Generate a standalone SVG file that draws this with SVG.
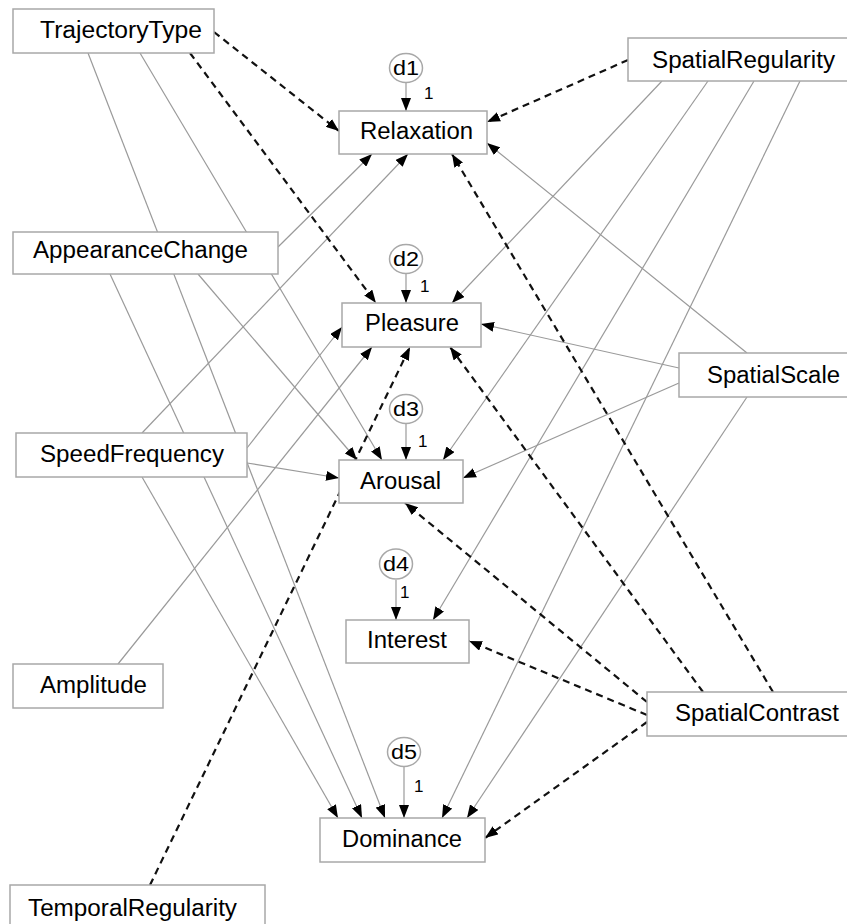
<svg xmlns="http://www.w3.org/2000/svg" width="847" height="924" viewBox="0 0 847 924">
<style>
.box{fill:#fff;stroke:#a8a8a8;stroke-width:1.5}
.lbl{font-family:"Liberation Sans",Arial,sans-serif;font-size:23px;fill:#000}
.dl{font-family:"Liberation Sans",Arial,sans-serif;font-size:20px;fill:#000}
.one{font-family:"Liberation Sans",Arial,sans-serif;font-size:17px;fill:#000}
.err{fill:#fff;stroke:#a8a8a8;stroke-width:1.5}
.s{stroke:#9a9a9a;stroke-width:1.2;fill:none;marker-end:url(#ah)}
.d{stroke:#111;stroke-width:2.2;stroke-dasharray:7,5;fill:none;marker-end:url(#ah)}
</style>
<defs>
<marker id="ah" viewBox="0 0 13 10" refX="13" refY="5" markerWidth="13" markerHeight="10" markerUnits="userSpaceOnUse" orient="auto">
<path d="M0,0 L13,5 L0,10 z" fill="#000" stroke="none"/>
</marker>
</defs>
<rect width="847" height="924" fill="#fff"/>
<g id="connectors">
<line class="s" x1="140" y1="53" x2="382" y2="460"/>
<line class="s" x1="88" y1="53" x2="385" y2="818"/>
<line class="s" x1="278" y1="247" x2="372" y2="154"/>
<line class="s" x1="198" y1="274" x2="357" y2="460"/>
<line class="s" x1="110" y1="274" x2="362" y2="818"/>
<line class="s" x1="142" y1="433" x2="408" y2="154"/>
<line class="s" x1="247" y1="448" x2="342" y2="327"/>
<line class="s" x1="247" y1="463" x2="339" y2="478"/>
<line class="s" x1="142" y1="477" x2="338" y2="818"/>
<line class="s" x1="118" y1="664" x2="372" y2="347"/>
<line class="s" x1="662" y1="81" x2="452" y2="303"/>
<line class="s" x1="708" y1="81" x2="443" y2="460"/>
<line class="s" x1="754" y1="81" x2="433" y2="620"/>
<line class="s" x1="800" y1="81" x2="442" y2="818"/>
<line class="s" x1="747" y1="353" x2="487" y2="143"/>
<line class="s" x1="679" y1="368" x2="481" y2="324"/>
<line class="s" x1="679" y1="383" x2="463" y2="478"/>
<line class="s" x1="747" y1="397" x2="467" y2="818"/>
<line class="s" x1="406" y1="82" x2="406" y2="111"/>
<line class="s" x1="406" y1="273" x2="406" y2="303"/>
<line class="s" x1="406" y1="423" x2="406" y2="460"/>
<line class="s" x1="396" y1="580" x2="396" y2="620"/>
<line class="s" x1="404" y1="767" x2="404" y2="818"/>
<line class="d" x1="214" y1="32" x2="339" y2="131"/>
<line class="d" x1="190" y1="53" x2="376" y2="303"/>
<line class="d" x1="628" y1="60" x2="487" y2="122"/>
<line class="d" x1="773" y1="692" x2="452" y2="154"/>
<line class="d" x1="703" y1="692" x2="450" y2="347"/>
<line class="d" x1="647" y1="702" x2="405" y2="503"/>
<line class="d" x1="647" y1="715" x2="469" y2="641"/>
<line class="d" x1="647" y1="722" x2="485" y2="838"/>
<line class="d" x1="150" y1="885" x2="410" y2="347"/>
</g>
<g id="TrajectoryType"><rect class="box" x="13" y="9" width="201" height="44"/><text class="lbl" x="40" y="38" textLength="162" lengthAdjust="spacingAndGlyphs">TrajectoryType</text></g>
<g id="Relaxation"><rect class="box" x="339" y="111" width="148" height="43"/><text class="lbl" x="360" y="139" textLength="113" lengthAdjust="spacingAndGlyphs">Relaxation</text></g>
<g id="SpatialRegularity"><rect class="box" x="628" y="38" width="222" height="43"/><text class="lbl" x="652" y="68" textLength="183" lengthAdjust="spacingAndGlyphs">SpatialRegularity</text></g>
<g id="AppearanceChange"><rect class="box" x="13" y="232" width="265" height="42"/><text class="lbl" x="33" y="258" textLength="215" lengthAdjust="spacingAndGlyphs">AppearanceChange</text></g>
<g id="SpeedFrequency"><rect class="box" x="16" y="433" width="231" height="44"/><text class="lbl" x="40" y="462" textLength="184" lengthAdjust="spacingAndGlyphs">SpeedFrequency</text></g>
<g id="Pleasure"><rect class="box" x="342" y="303" width="139" height="44"/><text class="lbl" x="365" y="331" textLength="94" lengthAdjust="spacingAndGlyphs">Pleasure</text></g>
<g id="Arousal"><rect class="box" x="339" y="460" width="124" height="43"/><text class="lbl" x="360" y="489" textLength="81" lengthAdjust="spacingAndGlyphs">Arousal</text></g>
<g id="SpatialScale"><rect class="box" x="679" y="353" width="171" height="44"/><text class="lbl" x="707" y="383" textLength="133" lengthAdjust="spacingAndGlyphs">SpatialScale</text></g>
<g id="Interest"><rect class="box" x="346" y="620" width="123" height="43"/><text class="lbl" x="367" y="648" textLength="80" lengthAdjust="spacingAndGlyphs">Interest</text></g>
<g id="Amplitude"><rect class="box" x="13" y="664" width="150" height="44"/><text class="lbl" x="40" y="693" textLength="107" lengthAdjust="spacingAndGlyphs">Amplitude</text></g>
<g id="SpatialContrast"><rect class="box" x="647" y="692" width="203" height="44"/><text class="lbl" x="675" y="721" textLength="164" lengthAdjust="spacingAndGlyphs">SpatialContrast</text></g>
<g id="Dominance"><rect class="box" x="320" y="818" width="165" height="44"/><text class="lbl" x="342" y="847" textLength="120" lengthAdjust="spacingAndGlyphs">Dominance</text></g>
<g id="TemporalRegularity"><rect class="box" x="10" y="885" width="255" height="44"/><text class="lbl" x="28" y="916" textLength="209" lengthAdjust="spacingAndGlyphs">TemporalRegularity</text></g>
<g id="d1"><ellipse class="err" cx="406" cy="68" rx="16.5" ry="14.5"/><text class="dl" x="393" y="75" textLength="26" lengthAdjust="spacingAndGlyphs">d1</text><text class="one" x="424" y="99">1</text></g>
<g id="d2"><ellipse class="err" cx="406" cy="259" rx="16.5" ry="14.5"/><text class="dl" x="393" y="266" textLength="26" lengthAdjust="spacingAndGlyphs">d2</text><text class="one" x="420" y="292">1</text></g>
<g id="d3"><ellipse class="err" cx="406" cy="409" rx="16.5" ry="14.5"/><text class="dl" x="393" y="416" textLength="26" lengthAdjust="spacingAndGlyphs">d3</text><text class="one" x="418" y="447">1</text></g>
<g id="d4"><ellipse class="err" cx="396" cy="564" rx="16.5" ry="15"/><text class="dl" x="383" y="571" textLength="26" lengthAdjust="spacingAndGlyphs">d4</text><text class="one" x="400" y="598">1</text></g>
<g id="d5"><ellipse class="err" cx="404" cy="752" rx="16.5" ry="14.5"/><text class="dl" x="391" y="759" textLength="26" lengthAdjust="spacingAndGlyphs">d5</text><text class="one" x="414" y="792">1</text></g>
</svg>
